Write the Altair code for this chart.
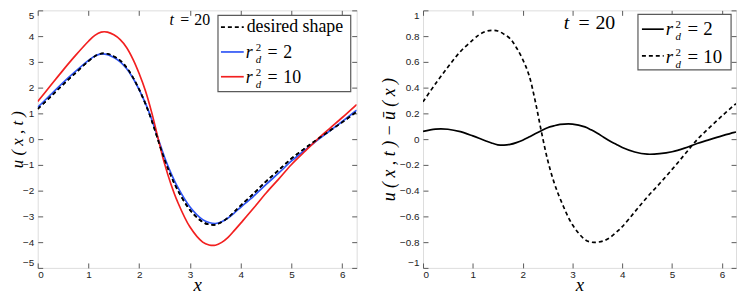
import altair as alt
import pandas as pd

# ---------------- data ----------------
xs = [0, 0.25, 0.5, 0.75, 1.0, 1.125, 1.25, 1.375, 1.5, 1.625, 1.75, 1.875, 2.0, 2.125,
      2.25, 2.375, 2.5, 2.625, 2.75, 3.0, 3.25, 3.375, 3.5, 3.625, 3.75, 3.875, 4.0,
      4.25, 4.5, 4.75, 5.0, 5.25, 5.5, 5.75, 6.0, 6.25, 6.283]
desired = [1.17, 1.64, 2.12, 2.58, 3.03, 3.22, 3.32, 3.31, 3.21, 3.05, 2.78, 2.40, 1.92,
           1.36, 0.70, -0.06, -0.80, -1.42, -1.95, -2.75, -3.22, -3.31, -3.32, -3.22,
           -3.05, -2.82, -2.58, -2.12, -1.64, -1.20, -0.75, -0.38, -0.02, 0.32, 0.66,
           1.02, 1.07]
u_r2 = [1.23, 1.718, 2.197, 2.638, 3.055, 3.227, 3.308, 3.28, 3.166, 3.003, 2.739, 2.373,
        1.912, 1.376, 0.742, 0.006, -0.711, -1.317, -1.836, -2.633, -3.125, -3.238,
        -3.275, -3.205, -3.065, -2.86, -2.645, -2.22, -1.757, -1.313, -0.848, -0.45,
        -0.054, 0.316, 0.685, 1.072, 1.125]
u_r10 = [1.46, 2.07, 2.68, 3.26, 3.80, 4.03, 4.155, 4.155, 4.05, 3.865, 3.56, 3.11, 2.54,
         1.86, 1.00, 0.00, -0.96, -1.75, -2.41, -3.415, -4.00, -4.11, -4.12, -4.01,
         -3.815, -3.545, -3.26, -2.685, -2.09, -1.545, -0.985, -0.50, -0.025, 0.41, 0.84,
         1.285, 1.345]
diff_r2 = [0.060, 0.078, 0.077, 0.058, 0.025, 0.007, -0.012, -0.030, -0.044, -0.047,
           -0.041, -0.027, -0.008, 0.016, 0.042, 0.066, 0.089, 0.103, 0.114, 0.117,
           0.095, 0.072, 0.045, 0.015, -0.015, -0.040, -0.065, -0.100, -0.117, -0.113,
           -0.098, -0.070, -0.034, -0.004, 0.025, 0.052, 0.055]
diff_r10 = [0.29, 0.43, 0.56, 0.68, 0.77, 0.81, 0.835, 0.845, 0.84, 0.815, 0.78, 0.71,
            0.62, 0.50, 0.30, 0.06, -0.16, -0.33, -0.46, -0.665, -0.78, -0.80, -0.80,
            -0.79, -0.765, -0.725, -0.68, -0.565, -0.45, -0.345, -0.235, -0.12, -0.005,
            0.09, 0.18, 0.265, 0.275]

x_ticks = [0, 1, 2, 3, 4, 5, 6]
y_ticks_left = [-5, -4, -3, -2, -1, 0, 1, 2, 3, 4, 5]
y_ticks_right = [-1, -0.8, -0.6, -0.4, -0.2, 0, 0.2, 0.4, 0.6, 0.8, 1]

title_x = "x"
title_left = "u ( x ,  t )"
title_right = "u ( x ,  t )   −   ū ( x )"

# ---------------- style ----------------
W1, W2, H = 322, 316, 260
AX = "#5a5a5a"
SANS = "Liberation Sans"
SERIF = "Liberation Serif"
BLUE = "#2f55f5"
RED = "#f22020"
DASH = [4, 3]

one = pd.DataFrame({"k": [0]})


def axis_main(orient, values, title, fmt, tsize, tpad, lpad, flush=False):
    kw = {}
    if flush:
        kw["labelFlush"] = True
    return alt.Axis(orient=orient, values=values, offset=-5, tickSize=5, tickColor=AX,
                    tickWidth=1, domain=False, grid=False, labelPadding=lpad,
                    labelFont=SANS, labelFontSize=10, labelColor="#222222", format=fmt,
                    title=title, titleFont=SERIF, titleFontStyle="italic",
                    titleFontWeight="normal", titleFontSize=tsize, titleColor="#000000",
                    titlePadding=tpad, **kw)


def axis_mirror(orient, values):
    return alt.Axis(orient=orient, values=values, offset=-5, tickSize=5, tickColor=AX,
                    tickWidth=1, domain=False, grid=False, labels=False, title=None)


def line(values, color, dash, ydom, xaxis=None, yaxis=None):
    mk = dict(color=color, strokeWidth=1.7, interpolate="catmull-rom", clip=True)
    if dash:
        mk["strokeDash"] = dash
    df = pd.DataFrame({"x": xs, "y": values})
    return alt.Chart(df).mark_line(**mk).encode(
        x=alt.X("x:Q", scale=alt.Scale(domain=[0, 6.2832], nice=False, zero=False),
                axis=xaxis),
        y=alt.Y("y:Q", scale=alt.Scale(domain=ydom, nice=False, zero=False), axis=yaxis),
    )


def txt(s, x, y, size, italic=False):
    return alt.Chart(one).mark_text(
        text=s, align="left", baseline="alphabetic", font=SERIF, fontSize=size,
        fontStyle="italic" if italic else "normal", color="black"
    ).encode(x=alt.value(x), y=alt.value(y))


def box(x1, x2, y1, y2):
    return alt.Chart(one).mark_rect(fill="white", stroke=AX, strokeWidth=1.2).encode(
        x=alt.value(x1), x2=alt.value(x2), y=alt.value(y1), y2=alt.value(y2))


def sample(x1, x2, y, color, dash):
    mk = dict(color=color, strokeWidth=1.7)
    if dash:
        mk["strokeDash"] = dash
    return alt.Chart(one).mark_rule(**mk).encode(
        x=alt.value(x1), x2=alt.value(x2), y=alt.value(y))


def rd_label(x, y, value, size):
    return [
        txt("r", x, y, size, italic=True),
        txt("2", x + 10, y - 7, 11),
        txt("d", x + 10, y + 5, 11, italic=True),
        txt("=", x + 22, y, size),
        txt(value, x + 38, y, size),
    ]


def t_label(x, y, size, gap1, gap2):
    return [
        txt("t", x, y, size, italic=True),
        txt("=", x + gap1, y, size),
        txt("20", x + gap2, y, size),
    ]


# ---------------- left panel ----------------
left_layers = [
    line(desired, "black", DASH, [-5, 5],
         xaxis=axis_main("bottom", x_ticks, title_x, "d", 19, -4, 2),
         yaxis=axis_main("left", y_ticks_left, title_left, "d", 17, -4, 4, flush=True)),
    line(u_r2, BLUE, None, [-5, 5],
         xaxis=axis_mirror("top", x_ticks), yaxis=axis_mirror("right", y_ticks_left)),
    line(u_r10, RED, None, [-5, 5]),
    line(desired, "black", DASH, [-5, 5]),
    box(182, 316, 5, 82),
    sample(185, 208, 17, "black", DASH),
    txt("desired shape", 211, 22, 18),
    sample(185, 208, 42, BLUE, None),
    sample(185, 208, 67, RED, None),
] + t_label(133, 15, 16, 11, 25) + rd_label(210, 48, "2", 18) + rd_label(210, 73, "10", 18)

left = alt.layer(*left_layers).resolve_axis(x="independent", y="independent").properties(
    width=W1, height=H)

# ---------------- right panel ----------------
right_layers = [
    line(diff_r2, "black", None, [-1, 1],
         xaxis=axis_main("bottom", x_ticks, title_x, "d", 19, -4, 2),
         yaxis=axis_main("left", y_ticks_right, title_right, "~g", 18, 1, 4, flush=True)),
    line(diff_r10, "black", DASH, [-1, 1],
         xaxis=axis_mirror("top", x_ticks), yaxis=axis_mirror("right", y_ticks_right)),
    box(217, 311, 4, 60),
    sample(221, 243, 19, "black", None),
    sample(221, 243, 46, "black", DASH),
] + t_label(142, 19, 20, 15, 32) + rd_label(245, 25, "2", 19) + rd_label(245, 53, "10", 19)

right = alt.layer(*right_layers).resolve_axis(x="independent", y="independent").properties(
    width=W2, height=H)

chart = alt.hconcat(left, right, spacing=67, bounds="flush").properties(
    padding={"left": 0, "top": 0, "right": 2, "bottom": 1}
).configure_view(stroke=AX, strokeWidth=1.4).configure(background="white")

chart.save("out.html", embed_options={"renderer": "svg", "actions": False})
